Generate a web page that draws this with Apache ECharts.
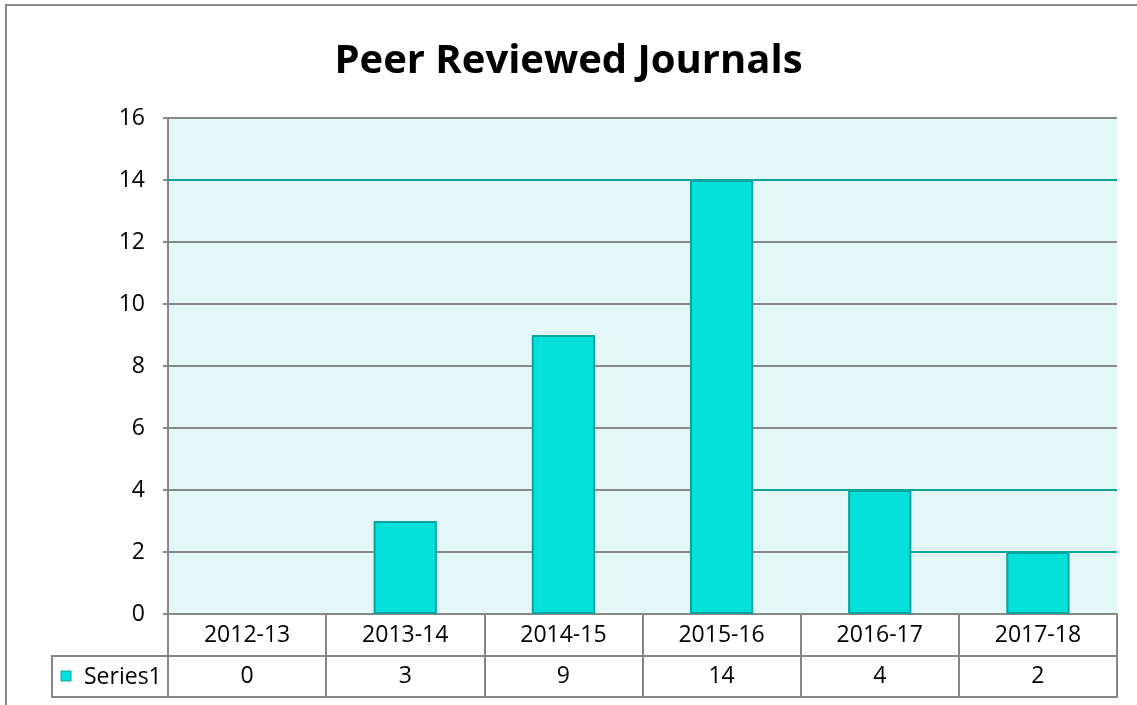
<!DOCTYPE html>
<html>
<head>
<meta charset="utf-8">
<style>
  html, body { margin: 0; padding: 0; background: #ffffff; }
  #chart { width: 1137px; height: 705px; }
</style>
<script src="https://cdn.jsdelivr.net/npm/echarts@6/dist/echarts.min.js"></script>
</head>
<body>
<div id="chart"></div>
<script>
// ---- data ----
const chartTitle = 'Peer Reviewed Journals';
const categories = ['2012-13', '2013-14', '2014-15', '2015-16', '2016-17', '2017-18'];
const seriesName = 'Series1';
const seriesValues = [0, 3, 9, 14, 4, 2];
const yTicks = { min: 0, max: 16, interval: 2 };
// teal-coloured gridline segments: [category index after whose bar the segment starts (-1 = from axis), value]
const accentSegments = [[-1, 14], [3, 4], [4, 2]];

// ---- style ----
const FONT = 'Open Sans';
const GRAY = '#878787';
const TEAL = '#0aa39d';
const CYAN = '#04e0da';
const PLOT_BG = '#e4f7f7';
const BAR_RATIO = 0.4;
const LABEL_SIZE = 23;

const chart = echarts.init(document.getElementById('chart'), null, { renderer: 'canvas' });

const option = {
  animation: false,
  backgroundColor: '#ffffff',
  title: {
    text: chartTitle,
    left: 'center',
    top: 40,
    padding: 0,
    textStyle: { fontFamily: FONT, fontWeight: 'bold', fontSize: 40, lineHeight: 44, color: '#000' }
  },
  grid: {
    left: 168, right: 20, top: 118, bottom: 91,
    show: true, backgroundColor: PLOT_BG, borderWidth: 0
  },
  xAxis: [
    {
      type: 'category',
      data: categories,
      position: 'bottom',
      axisLine: { show: true, lineStyle: { color: GRAY, width: 2 } },
      axisTick: { show: true, length: 83, interval: 0, lineStyle: { color: GRAY, width: 2 } },
      axisLabel: {
        interval: 0, margin: 21, verticalAlign: 'middle',
        fontFamily: FONT, fontSize: LABEL_SIZE, color: '#000'
      },
      splitLine: { show: false }
    },
    {
      type: 'category',
      data: seriesValues.map(String),
      position: 'bottom',
      offset: 42,
      axisLine: { show: true, lineStyle: { color: GRAY, width: 2 } },
      axisTick: { show: false },
      axisLabel: {
        interval: 0, margin: 20, verticalAlign: 'middle',
        fontFamily: FONT, fontSize: LABEL_SIZE, color: '#000'
      }
    }
  ],
  yAxis: {
    type: 'value',
    min: yTicks.min, max: yTicks.max, interval: yTicks.interval,
    axisLine: { show: true, lineStyle: { color: GRAY, width: 2 } },
    axisTick: { show: true, length: 5, lineStyle: { color: GRAY, width: 2 } },
    axisLabel: { margin: 23, fontFamily: FONT, fontSize: LABEL_SIZE, color: '#000' },
    splitLine: { show: true, lineStyle: { color: GRAY, width: 2 } }
  },
  series: [
    {
      type: 'custom',
      name: 'accent',
      z: 1,
      silent: true,
      data: accentSegments,
      renderItem: function (params, api) {
        const idx = api.value(0);
        const val = api.value(1);
        const cs = params.coordSys;
        const band = api.size([1, 0])[0];
        let x1;
        if (idx < 0) {
          x1 = cs.x;
        } else {
          x1 = api.coord([idx, val])[0] + band * BAR_RATIO / 2;
        }
        const y = api.coord([0, val])[1];
        return {
          type: 'line',
          shape: { x1: x1, y1: y, x2: cs.x + cs.width, y2: y },
          style: { stroke: TEAL, lineWidth: 2 }
        };
      }
    },
    {
      type: 'bar',
      name: seriesName,
      z: 3,
      data: seriesValues.map(function (v) {
        return { value: v, itemStyle: { borderWidth: v === 0 ? 0 : 2 } };
      }),
      barWidth: (BAR_RATIO * 100) + '%',
      itemStyle: { color: CYAN, borderColor: TEAL, borderWidth: 2 }
    }
  ],
  graphic: [
    {
      type: 'rect',
      shape: { x: 6, y: 5, width: 1160, height: 740 },
      style: { fill: null, stroke: GRAY, lineWidth: 2 },
      silent: true, z: 0
    },
    {
      type: 'rect',
      shape: { x: 52, y: 656, width: 1065, height: 41 },
      style: { fill: null, stroke: GRAY, lineWidth: 2 },
      silent: true, z: 10
    },
    {
      type: 'rect',
      shape: { x: 61, y: 671, width: 10, height: 10 },
      style: { fill: CYAN, stroke: TEAL, lineWidth: 1 },
      silent: true, z: 10
    },
    {
      type: 'text',
      x: 84, y: 677,
      style: {
        text: seriesName, fontFamily: FONT, fontSize: LABEL_SIZE, fill: '#000',
        verticalAlign: 'middle', align: 'left'
      },
      silent: true, z: 10
    }
  ]
};

chart.setOption(option);
</script>
</body>
</html>
